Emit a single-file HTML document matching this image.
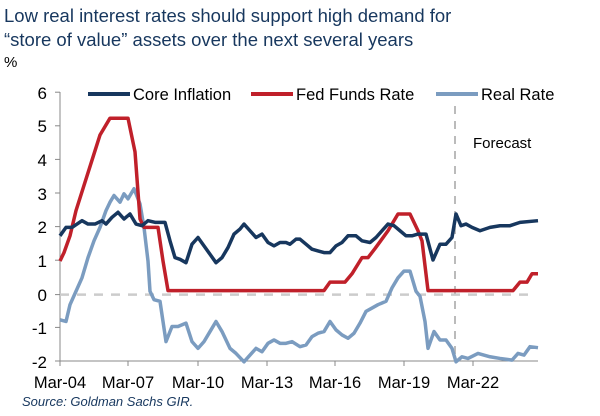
<!DOCTYPE html>
<html><head><meta charset="utf-8"><style>
body{margin:0;background:#fff;width:600px;height:411px;overflow:hidden;font-family:"Liberation Sans",sans-serif}
</style></head><body>
<svg width="600" height="411" xmlns="http://www.w3.org/2000/svg" font-family="Liberation Sans, sans-serif">
<text x="4" y="22" font-size="18.5" fill="#17375e">Low real interest rates should support high demand for</text>
<text x="4" y="46" font-size="18.5" fill="#17375e">“store of value” assets over the next several years</text>
<text x="4" y="67" font-size="15" fill="#000">%</text>
<!-- axes -->
<line x1="60" y1="92" x2="60" y2="361" stroke="#888" stroke-width="1"/>
<line x1="60" y1="361" x2="538" y2="361" stroke="#888" stroke-width="1"/>
<g stroke="#888">
<line x1="55" y1="92.2" x2="60" y2="92.2"/><line x1="55" y1="125.8" x2="60" y2="125.8"/><line x1="55" y1="159.4" x2="60" y2="159.4"/><line x1="55" y1="193" x2="60" y2="193"/><line x1="55" y1="226.6" x2="60" y2="226.6"/><line x1="55" y1="260.2" x2="60" y2="260.2"/><line x1="55" y1="294.6" x2="60" y2="294.6"/><line x1="55" y1="327.4" x2="60" y2="327.4"/><line x1="55" y1="361" x2="60" y2="361"/>
<line x1="60" y1="361" x2="60" y2="366"/><line x1="128" y1="361" x2="128" y2="366"/><line x1="198" y1="361" x2="198" y2="366"/><line x1="267" y1="361" x2="267" y2="366"/><line x1="335" y1="361" x2="335" y2="366"/><line x1="404" y1="361" x2="404" y2="366"/><line x1="473" y1="361" x2="473" y2="366"/>
</g>
<g font-size="17" fill="#000" text-anchor="end">
<text x="47" y="99">6</text><text x="47" y="132">5</text><text x="47" y="166">4</text><text x="47" y="200">3</text><text x="47" y="233">2</text><text x="47" y="267">1</text><text x="47" y="301">0</text><text x="47" y="334">-1</text><text x="47" y="368">-2</text>
</g>
<g font-size="16.5" fill="#000" text-anchor="middle">
<text x="60" y="388">Mar-04</text><text x="128" y="388">Mar-07</text><text x="198" y="388">Mar-10</text><text x="267" y="388">Mar-13</text><text x="335" y="388">Mar-16</text><text x="404" y="388">Mar-19</text><text x="473" y="388">Mar-22</text>
</g>
<text x="22" y="406" font-size="13" font-style="italic" fill="#17375e">Source: Goldman Sachs GIR.</text>
<line x1="60" y1="294.6" x2="535" y2="294.6" stroke="#ccc" stroke-width="2.5" stroke-dasharray="9,8"/>
<line x1="455" y1="106" x2="455" y2="361" stroke="#bbb" stroke-width="2" stroke-dasharray="8,7"/>
<text x="473" y="148" font-size="15" fill="#000">Forecast</text>
<!-- legend -->
<line x1="88" y1="94" x2="130" y2="94" stroke="#17375e" stroke-width="4"/>
<text x="133" y="100" font-size="16.5">Core Inflation</text>
<line x1="251" y1="94" x2="293" y2="94" stroke="#c0202a" stroke-width="4"/>
<text x="296" y="100" font-size="16.5">Fed Funds Rate</text>
<line x1="436" y1="94" x2="478" y2="94" stroke="#7b9cc0" stroke-width="4"/>
<text x="481" y="100" font-size="16.5">Real Rate</text>
<g transform="translate(0,294.6) scale(1,-33.6)" fill="none" stroke-linejoin="round">
<polyline vector-effect="non-scaling-stroke" stroke="#7b9cc0" stroke-width="3.5" points="60,-0.75 66,-0.8 70,-0.3 76,0.1 82,0.5 88,1.1 94,1.6 100,2.0 106,2.5 110,2.75 114,2.95 120,2.75 124,3.0 128,2.85 134,3.15 140,2.7 144,2.0 148,1.0 150,0.1 154,-0.15 160,-0.2 166,-1.4 172,-0.95 178,-0.95 186,-0.85 192,-1.4 198,-1.6 204,-1.4 210,-1.1 216,-0.8 222,-1.1 230,-1.6 236,-1.75 244,-2.0 250,-1.8 256,-1.6 262,-1.7 268,-1.45 274,-1.35 280,-1.45 286,-1.45 292,-1.4 300,-1.55 306,-1.5 312,-1.25 318,-1.15 324,-1.1 330,-0.8 336,-1.05 342,-1.2 348,-1.3 354,-1.15 360,-0.85 366,-0.5 372,-0.4 378,-0.3 386,-0.2 392,0.2 398,0.5 404,0.7 410,0.7 416,0.1 420,-0.05 425,-0.8 428,-1.6 434,-1.1 440,-1.35 446,-1.35 452,-1.6 456,-2.0 462,-1.85 468,-1.9 478,-1.75 490,-1.85 500,-1.9 512,-1.95 518,-1.75 524,-1.8 530,-1.55 538,-1.58"/>
<polyline vector-effect="non-scaling-stroke" stroke="#c0202a" stroke-width="3.5" points="60,1.0 64,1.25 70,1.75 76,2.5 84,3.25 92,4.0 100,4.75 110,5.25 128,5.25 135,4.25 140,2.25 144,2.0 158,2.0 163,1.0 168,0.12 324,0.12 330,0.37 345,0.37 352,0.62 362,1.1 368,1.1 375,1.37 388,1.9 398,2.4 410,2.4 418,1.9 422,1.6 428,0.12 513,0.12 520,0.37 527,0.37 532,0.62 538,0.62"/>
<polyline vector-effect="non-scaling-stroke" stroke="#17375e" stroke-width="3.5" points="60,1.75 66,2.0 72,2.0 82,2.2 88,2.1 95,2.1 102,2.2 106,2.1 112,2.3 118,2.45 124,2.25 130,2.4 136,2.1 142,2.05 148,2.2 155,2.15 165,2.15 170,1.6 175,1.1 180,1.05 186,0.95 192,1.5 198,1.7 204,1.45 210,1.2 216,0.95 222,1.1 228,1.4 234,1.8 240,1.95 244,2.1 250,1.9 256,1.7 262,1.8 268,1.55 274,1.45 280,1.55 286,1.55 290,1.5 296,1.65 300,1.65 306,1.5 312,1.35 318,1.3 324,1.25 330,1.25 336,1.45 342,1.55 348,1.75 356,1.75 362,1.6 370,1.55 376,1.7 382,1.9 388,2.1 394,2.05 400,1.9 406,1.75 412,1.75 418,1.8 426,1.8 433,1.03 440,1.5 446,1.5 452,1.7 456,2.4 461,2.05 466,2.1 472,2.0 480,1.9 490,2.0 500,2.05 510,2.05 520,2.15 538,2.2"/>
</g>
</svg>
</body></html>
